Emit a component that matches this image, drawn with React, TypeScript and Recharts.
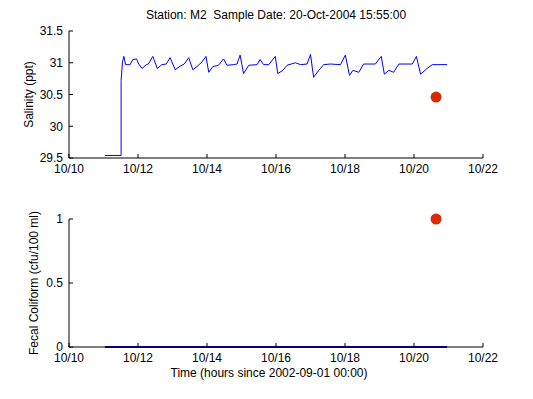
import { ComposedChart, Line, Scatter, XAxis, YAxis } from "recharts";

// day of October 2004
const salinityDay = [
  11.04, 11.51, 11.51, 11.55, 11.59, 11.64, 11.77, 11.85, 11.96, 12.02, 12.12, 12.24, 12.3, 12.43,
  12.56, 12.69, 12.82, 12.93, 13.08, 13.2, 13.34, 13.47, 13.59, 13.71, 13.85, 13.97, 14.05, 14.17,
  14.33, 14.48, 14.58, 14.77, 14.87, 14.96, 15.06, 15.21, 15.45, 15.54, 15.64, 15.79, 15.98, 16.05,
  16.2, 16.32, 16.56, 16.71, 16.9, 17.0, 17.09, 17.24, 17.38, 17.58, 17.87, 18.01, 18.13, 18.23,
  18.4, 18.54, 18.88, 19.05, 19.14, 19.27, 19.41, 19.56, 19.95, 20.07, 20.19, 20.38, 20.53, 20.96,
];
const salinityValue = [
  29.54, 29.54, 30.72, 31.01, 31.1, 30.97, 30.97, 31.05, 31.06, 30.98, 30.91, 30.97, 30.98, 31.1,
  30.91, 30.97, 30.98, 31.08, 30.89, 30.94, 30.98, 31.08, 30.89, 30.94, 31.01, 31.1, 30.85, 30.94,
  30.96, 31.06, 30.96, 30.97, 30.98, 31.12, 30.83, 30.96, 30.97, 31.05, 30.97, 30.97, 31.1, 30.83,
  30.88, 30.96, 31.0, 30.97, 30.98, 31.13, 30.77, 30.88, 30.97, 30.98, 30.97, 31.12, 30.8, 30.88,
  30.85, 30.98, 30.98, 31.1, 30.82, 30.88, 30.85, 30.98, 30.98, 31.1, 30.82, 30.91, 30.97, 30.97,
];
const salinitySampleDay = [20.64];
const salinitySampleValue = [30.46];

const coliformDay = [11.04, 20.96];
const coliformValue = [0, 0];
const coliformSampleDay = [20.64];
const coliformSampleValue = [1];

const dayTicks = [10, 12, 14, 16, 18, 20, 22];
const salinityTicks = [29.5, 30, 30.5, 31, 31.5];
const coliformTicks = [0, 0.5, 1];

const title = "Station: M2  Sample Date: 20-Oct-2004 15:55:00";

const salinityLine = salinityDay.map((day, i) => ({ day, value: salinityValue[i] }));
const salinitySample = salinitySampleDay.map((day, i) => ({ day, value: salinitySampleValue[i] }));
const coliformLine = coliformDay.map((day, i) => ({ day, value: coliformValue[i] }));
const coliformSample = coliformSampleDay.map((day, i) => ({ day, value: coliformSampleValue[i] }));

const font = "'Liberation Sans', Arial, sans-serif";
const tickStyle = { fontSize: 12, fill: "#000", fontFamily: font };
const red = "#d82a02";

const dot = (props: any) => <circle cx={props.cx} cy={props.cy} r={5.5} fill={red} />;

function TimeAxis() {
  return (
    <XAxis
      type="number"
      dataKey="day"
      domain={[10, 22]}
      ticks={dayTicks}
      tickFormatter={(d) => `10/${d}`}
      height={20}
      tickSize={-4}
      tickMargin={10}
      tick={tickStyle}
      axisLine={{ stroke: "#000" }}
      tickLine={{ stroke: "#000" }}
    />
  );
}

export default function App() {
  return (
    <div style={{ position: "absolute", left: 0, top: 0, width: 533, height: 399, background: "#fff" }}>
      <div style={{ position: "absolute", left: 0, top: 0 }}>
        <ComposedChart width={533} height={190} margin={{ top: 31, right: 50, bottom: 12, left: 0 }}>
          {TimeAxis()}
          <YAxis
            type="number"
            dataKey="value"
            domain={[29.5, 31.5]}
            ticks={salinityTicks}
            width={69}
            tickSize={-4}
            tickMargin={10}
            tick={tickStyle}
            axisLine={{ stroke: "#000" }}
            tickLine={{ stroke: "#000" }}
          />
          <Line
            data={salinityLine}
            dataKey="value"
            type="linear"
            stroke="#0000ff"
            strokeWidth={1}
            dot={false}
            isAnimationActive={false}
          />
          <Scatter data={salinitySample} dataKey="value" shape={dot} isAnimationActive={false} />
          <text
            x={276}
            y={15}
            textAnchor="middle"
            dominantBaseline="central"
            fontSize={12}
            fontFamily={font}
            style={{ whiteSpace: "pre" }}
          >
            {title}
          </text>
          <text
            x={29}
            y={94.5}
            transform="rotate(-90 29 94.5)"
            textAnchor="middle"
            dominantBaseline="central"
            fontSize={12}
            fontFamily={font}
          >
            Salinity (ppt)
          </text>
        </ComposedChart>
      </div>
      <div style={{ position: "absolute", left: 0, top: 190 }}>
        <ComposedChart width={533} height={209} margin={{ top: 29, right: 50, bottom: 32, left: 0 }}>
          {TimeAxis()}
          <YAxis
            type="number"
            dataKey="value"
            domain={[0, 1]}
            ticks={coliformTicks}
            width={69}
            tickSize={-4}
            tickMargin={10}
            tick={tickStyle}
            axisLine={{ stroke: "#000" }}
            tickLine={{ stroke: "#000" }}
          />
          <Line
            data={coliformLine}
            dataKey="value"
            type="linear"
            stroke="#0000ff"
            strokeWidth={2}
            dot={false}
            isAnimationActive={false}
          />
          <Scatter data={coliformSample} dataKey="value" shape={dot} isAnimationActive={false} />
          <text
            x={34}
            y={93}
            transform="rotate(-90 34 93)"
            textAnchor="middle"
            dominantBaseline="central"
            fontSize={12}
            fontFamily={font}
          >
            Fecal Coliform (cfu/100 ml)
          </text>
          <text x={269} y={183} textAnchor="middle" dominantBaseline="central" fontSize={12} fontFamily={font}>
            Time (hours since 2002-09-01 00:00)
          </text>
        </ComposedChart>
      </div>
    </div>
  );
}
